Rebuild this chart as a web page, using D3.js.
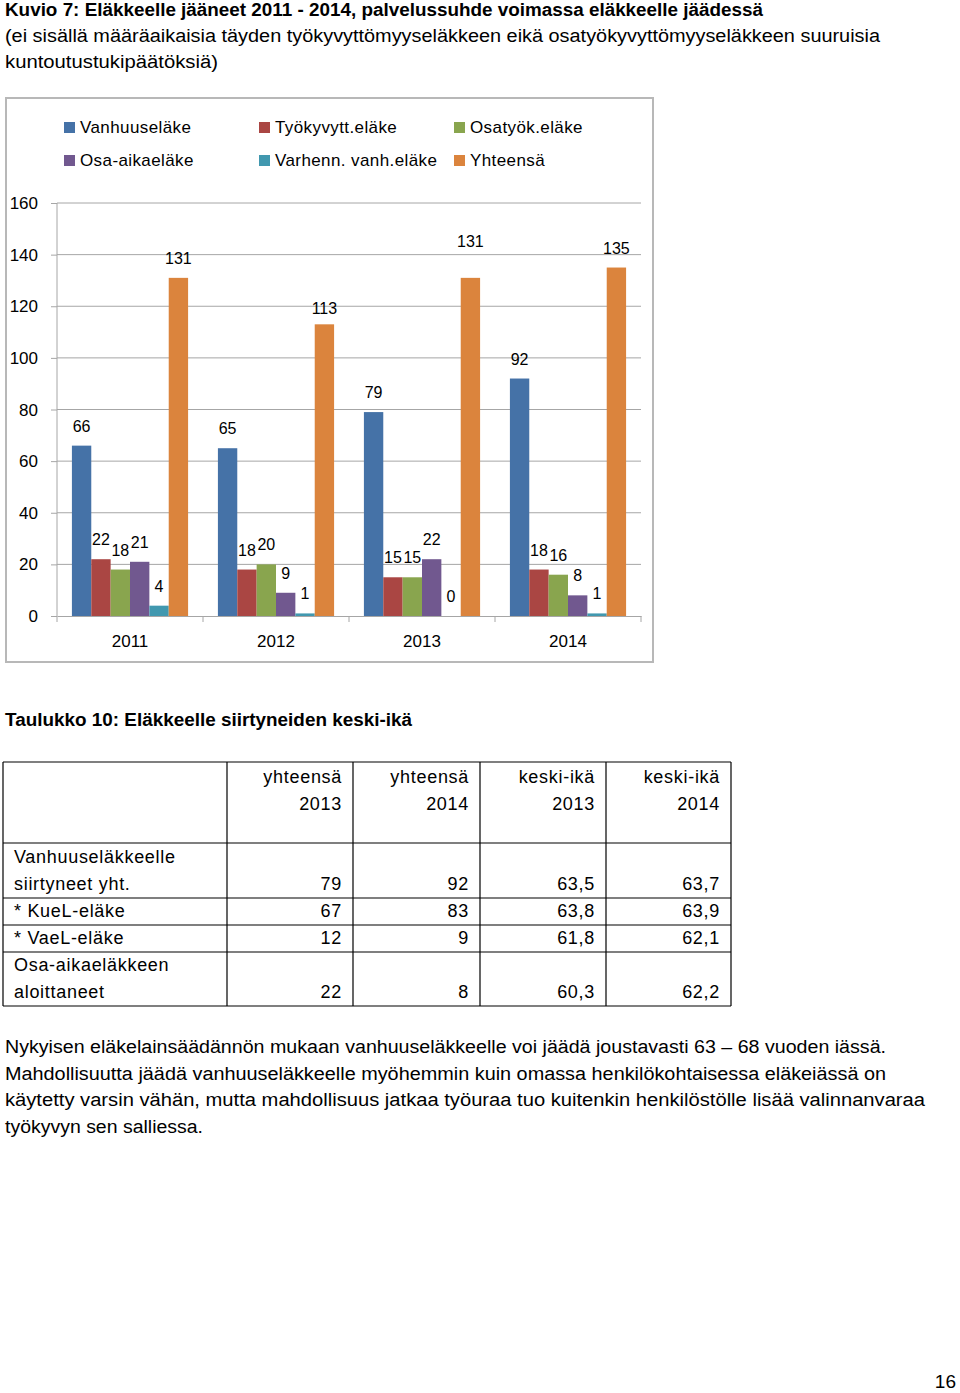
<!DOCTYPE html>
<html>
<head>
<meta charset="utf-8">
<script src="https://cdn.jsdelivr.net/npm/d3@7"></script>
<style>
  html, body { margin: 0; padding: 0; background: #fff; }
  svg { display: block; font-family: "Liberation Sans", Arial, sans-serif; }
</style>
</head>
<body>
<svg id="page" width="960" height="1393"></svg>
<script>
// chart data
const years = ["2011", "2012", "2013", "2014"];
const seriesNames = ["Vanhuuseläke", "Työkyvytt.eläke", "Osatyök.eläke", "Osa-aikaeläke", "Varhenn. vanh.eläke", "Yhteensä"];
const vanhuus = [66, 65, 79, 92];
const tyokyvytt = [22, 18, 15, 18];
const osatyok = [18, 20, 15, 16];
const osaaika = [21, 9, 22, 8];
const varhenn = [4, 1, 0, 1];
const yhteensa = [131, 113, 131, 135];
const yTicks = [0, 20, 40, 60, 80, 100, 120, 140, 160];

// texts
const titleLines = [
  "Kuvio 7: Eläkkeelle jääneet 2011 - 2014, palvelussuhde voimassa eläkkeelle jäädessä",
  "(ei sisällä määräaikaisia täyden työkyvyttömyyseläkkeen eikä osatyökyvyttömyyseläkkeen suuruisia",
  "kuntoutustukipäätöksiä)"
];
const tableTitle = "Taulukko 10: Eläkkeelle siirtyneiden keski-ikä";
const tableHeaders = [["yhteensä", "2013"], ["yhteensä", "2014"], ["keski-ikä", "2013"], ["keski-ikä", "2014"]];
const tableRowLabels = [["Vanhuuseläkkeelle", "siirtyneet yht."], ["* KueL-eläke"], ["* VaeL-eläke"], ["Osa-aikaeläkkeen", "aloittaneet"]];
const yhteensa2013 = [79, 67, 12, 22];
const yhteensa2014 = [92, 83, 9, 8];
const keskiika2013 = ["63,5", "63,8", "61,8", "60,3"];
const keskiika2014 = ["63,7", "63,9", "62,1", "62,2"];
const paragraphLines = [
  "Nykyisen eläkelainsäädännön mukaan vanhuuseläkkeelle voi jäädä joustavasti 63 – 68 vuoden iässä.",
  "Mahdollisuutta jäädä vanhuuseläkkeelle myöhemmin kuin omassa henkilökohtaisessa eläkeiässä on",
  "käytetty varsin vähän, mutta mahdollisuus jatkaa työuraa tuo kuitenkin henkilöstölle lisää valinnanvaraa",
  "työkyvyn sen salliessa."
];
const pageNumber = "16";

const colors = ["#4572A7", "#AA4643", "#89A54E", "#71588F", "#4198AF", "#DB843D"];
const seriesValues = [vanhuus, tyokyvytt, osatyok, osaaika, varhenn, yhteensa];

const svg = d3.select("#page");

function fitLine(x, y, text, width, size, weight) {
  svg.append("text")
    .attr("x", x).attr("y", y)
    .attr("font-size", size)
    .attr("font-weight", weight || "normal")
    .attr("textLength", width)
    .attr("lengthAdjust", "spacingAndGlyphs")
    .text(text);
}

// title
const titleWidths = [758, 875, 213];
titleLines.forEach((t, i) => {
  fitLine(5, 16 + i * 26, t, titleWidths[i], 18, i === 0 ? "bold" : "normal");
});

// ---- chart ----
svg.append("rect")
  .attr("x", 6).attr("y", 98).attr("width", 647).attr("height", 564)
  .attr("fill", "none").attr("stroke", "#b8b8b8").attr("stroke-width", 2);

const plotLeft = 57, plotRight = 641, plotTop = 203, plotBottom = 616;
const y = d3.scaleLinear().domain([0, 160]).range([plotBottom, plotTop]);
const x0 = d3.scaleBand().domain(years).range([plotLeft, plotRight]).padding(0);
const x1 = d3.scaleBand().domain(seriesNames).range([0, x0.bandwidth()]).paddingInner(0).paddingOuter(0.77);

const g = svg.append("g");

// tick marks on the value axis
g.append("g")
  .attr("transform", `translate(${plotLeft},0)`)
  .call(d3.axisLeft(y).tickValues(yTicks).tickSize(6).tickFormat(""))
  .call((a) => a.select(".domain").remove())
  .call((a) => a.selectAll(".tick line").attr("stroke", "#a6a6a6"));

// gridlines
g.append("g")
  .selectAll("line")
  .data(yTicks.filter((d) => d > 0))
  .join("line")
  .attr("x1", plotLeft).attr("x2", plotRight)
  .attr("y1", (d) => y(d)).attr("y2", (d) => y(d))
  .attr("stroke", "#a6a6a6").attr("stroke-width", 1);

// y axis labels
g.append("g")
  .selectAll("text")
  .data(yTicks)
  .join("text")
  .attr("x", 38).attr("y", (d) => y(d) + 6)
  .attr("text-anchor", "end")
  .attr("font-size", 17)
  .text((d) => d);

// y axis line
g.append("line")
  .attr("x1", plotLeft).attr("x2", plotLeft)
  .attr("y1", plotTop).attr("y2", plotBottom)
  .attr("stroke", "#a6a6a6");

// bars
const labelNudge = { "Yhteensä|2013": -17, "Yhteensä|2012": 4 };
const groups = g.append("g")
  .selectAll("g")
  .data(years)
  .join("g")
  .attr("transform", (d) => `translate(${x0(d)},0)`);

groups.selectAll("rect")
  .data((yr, yi) => seriesNames.map((s, si) => ({ s, si, v: seriesValues[si][yi] })))
  .join("rect")
  .attr("x", (d) => x1(d.s))
  .attr("y", (d) => y(d.v))
  .attr("width", x1.bandwidth())
  .attr("height", (d) => y(0) - y(d.v))
  .attr("fill", (d) => colors[d.si]);

groups.selectAll("text")
  .data((yr, yi) => seriesNames.map((s, si) => ({ s, si, yr, v: seriesValues[si][yi] })))
  .join("text")
  .attr("x", (d) => x1(d.s) + x1.bandwidth() / 2)
  .attr("y", (d) => y(d.v) - 14 + (labelNudge[d.s + "|" + d.yr] || 0))
  .attr("text-anchor", "middle")
  .attr("font-size", 16)
  .text((d) => d.v);

// x axis
g.append("g")
  .attr("transform", `translate(0,${plotBottom})`)
  .call(d3.axisBottom(x0).tickSize(0).tickFormat(""))
  .call((a) => a.select(".domain").attr("stroke", "#a6a6a6"));

g.append("g")
  .selectAll("line")
  .data(years.map((d) => x0(d)).concat([plotRight]))
  .join("line")
  .attr("x1", (d) => d).attr("x2", (d) => d)
  .attr("y1", plotBottom).attr("y2", plotBottom + 6)
  .attr("stroke", "#a6a6a6");

g.append("g")
  .selectAll("text")
  .data(years)
  .join("text")
  .attr("x", (d) => x0(d) + x0.bandwidth() / 2)
  .attr("y", 647)
  .attr("text-anchor", "middle")
  .attr("font-size", 17)
  .text((d) => d);

// legend
const legendCols = [64, 259, 454];
const legend = g.append("g")
  .selectAll("g")
  .data(seriesNames)
  .join("g")
  .attr("transform", (d, i) => `translate(${legendCols[i % 3]},${i < 3 ? 127 : 160})`);
legend.append("rect")
  .attr("x", 0).attr("y", -5).attr("width", 11).attr("height", 11)
  .attr("fill", (d, i) => colors[i]);
legend.append("text")
  .attr("x", 16).attr("y", 6)
  .attr("font-size", 17)
  .attr("letter-spacing", 0.4)
  .text((d) => d);

// ---- table ----
fitLine(5, 726, tableTitle, 407, 18, "bold");

const colEdges = [3, 227, 353, 480, 606, 731];
const rowEdges = [762, 843, 898, 925, 952, 1006];
const table = svg.append("g").attr("font-size", 18).attr("letter-spacing", 0.7);

table.append("g")
  .selectAll("line")
  .data(rowEdges)
  .join("line")
  .attr("x1", colEdges[0]).attr("x2", colEdges[colEdges.length - 1])
  .attr("y1", (d) => d).attr("y2", (d) => d)
  .attr("stroke", "#000").attr("stroke-width", 1.2);
table.append("g")
  .selectAll("line")
  .data(colEdges)
  .join("line")
  .attr("x1", (d) => d).attr("x2", (d) => d)
  .attr("y1", rowEdges[0]).attr("y2", rowEdges[rowEdges.length - 1])
  .attr("stroke", "#000").attr("stroke-width", 1.2);

tableHeaders.forEach((lines, ci) => {
  lines.forEach((t, li) => {
    table.append("text")
      .attr("x", colEdges[ci + 2] - 11).attr("y", 783 + li * 26.5)
      .attr("text-anchor", "end")
      .text(t);
  });
});

const tableCols = [yhteensa2013, yhteensa2014, keskiika2013, keskiika2014];
tableRowLabels.forEach((lines, ri) => {
  const bottom = rowEdges[ri + 2];
  lines.forEach((t, li) => {
    table.append("text")
      .attr("x", 14)
      .attr("y", bottom - 8 - (lines.length - 1 - li) * 27)
      .text(t);
  });
  tableCols.forEach((col, ci) => {
    table.append("text")
      .attr("x", colEdges[ci + 2] - 11)
      .attr("y", bottom - 8)
      .attr("text-anchor", "end")
      .text(col[ri]);
  });
});

// paragraph
const paraWidths = [881, 881, 920, 198];
paragraphLines.forEach((t, i) => {
  fitLine(5, 1053 + i * 26.7, t, paraWidths[i], 18);
});

svg.append("text")
  .attr("x", 956).attr("y", 1388)
  .attr("text-anchor", "end")
  .attr("font-size", 19)
  .text(pageNumber);
</script>
</body>
</html>
